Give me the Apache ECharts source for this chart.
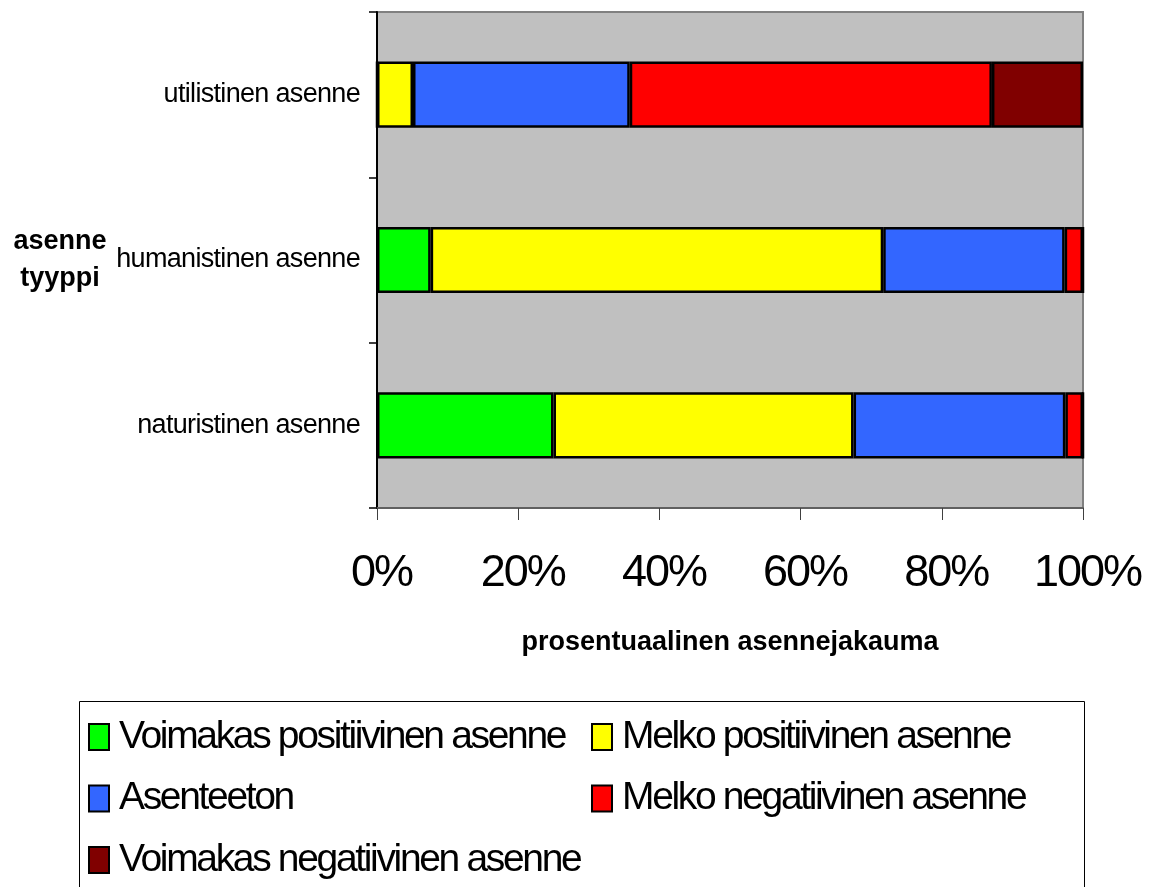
<!DOCTYPE html>
<html>
<head>
<meta charset="utf-8">
<title>Asennejakauma</title>
<script src="https://cdn.jsdelivr.net/npm/echarts@6/dist/echarts.min.js"></script>
<style>
  html, body { margin: 0; padding: 0; background: #fff; }
  #chart { width: 1151px; height: 887px; }
</style>
</head>
<body>
<div id="chart"></div>
<script>
// Category rows, bottom to top
const categories = ['naturistinen asenne', 'humanistinen asenne', 'utilistinen asenne'];

// Share of each attitude per row (%)
const voimakasPositiivinen = [25.0, 7.6, 0];
const melkoPositiivinen    = [42.5, 64.1, 5.1];
const asenteeton           = [30.0, 25.7, 30.7];
const melkoNegatiivinen    = [2.5, 2.6, 51.3];
const voimakasNegatiivinen = [0, 0, 12.9];

const seriesNames = [
  'Voimakas positiivinen asenne',
  'Melko positiivinen asenne',
  'Asenteeton',
  'Melko negatiivinen asenne',
  'Voimakas negatiivinen asenne'
];
const seriesValues = [voimakasPositiivinen, melkoPositiivinen, asenteeton, melkoNegatiivinen, voimakasNegatiivinen];
const seriesColors = ['#00FF00', '#FFFF00', '#3366FF', '#FF0000', '#800000'];

const xTicks = [0, 20, 40, 60, 80, 100];

// Tight letter tracking for the regular-weight text
(function () {
  const proto = CanvasRenderingContext2D.prototype;
  const desc = Object.getOwnPropertyDescriptor(proto, 'font');
  if (!desc || !('letterSpacing' in proto)) return;
  function tracking(font) {
    const m = /(\d+(?:\.\d+)?)px/.exec(font);
    if (!m) return '0px';
    const size = parseFloat(m[1]);
    const bold = /bold|[6-9]00/.test(font);
    const k = bold ? 0 : size >= 44 ? -0.045 : size >= 35 ? -0.06 : -0.025;
    return (k * size).toFixed(2) + 'px';
  }
  Object.defineProperty(proto, 'font', {
    configurable: true,
    get() { return desc.get.call(this); },
    set(v) { desc.set.call(this, v); this.letterSpacing = tracking(v); }
  });
})();

const FONT = "'Liberation Sans', Arial, sans-serif";

const chart = echarts.init(document.getElementById('chart'), null, { renderer: 'canvas' });

const legendCommon = {
  orient: 'vertical',
  icon: 'rect',
  itemWidth: 20,
  itemHeight: 26,
  itemGap: 21.5,
  padding: 0,
  selectedMode: false,
  itemStyle: { borderColor: '#000', borderWidth: 2 },
  textStyle: { fontFamily: FONT, fontSize: 39, color: '#000', lineHeight: 40, padding: [0, 0, 0, 5] }
};

chart.setOption({
  animation: false,
  backgroundColor: '#fff',
  textStyle: { fontFamily: FONT },
  grid: {
    left: 377, top: 12, right: 68, bottom: 379,
    show: true,
    backgroundColor: '#C0C0C0',
    borderColor: '#808080',
    borderWidth: 2
  },
  graphic: [{
    type: 'rect',
    left: 77, top: 699,
    shape: { width: 1005, height: 220 },
    style: { fill: 'none', stroke: '#000', lineWidth: 1 },
    z: 0
  }],
  legend: [
    Object.assign({}, legendCommon, {
      left: 88, top: 717,
      data: [seriesNames[0], seriesNames[2], seriesNames[4]]
    }),
    Object.assign({}, legendCommon, {
      left: 591, top: 717,
      data: [seriesNames[1], seriesNames[3]]
    })
  ],
  xAxis: {
    type: 'value',
    min: xTicks[0],
    max: xTicks[xTicks.length - 1],
    interval: 20,
    splitLine: { show: false },
    axisLine: { show: true, lineStyle: { color: '#606060', width: 2 } },
    axisTick: { show: true, length: 12, lineStyle: { color: '#404040', width: 1 } },
    axisLabel: {
      formatter: '{value}%',
      fontFamily: FONT,
      fontSize: 45,
      color: '#000',
      margin: 44,
      padding: [0, 0, 0, 9]
    },
    name: 'prosentuaalinen asennejakauma',
    nameLocation: 'middle',
    nameGap: 121,
    nameTextStyle: { fontFamily: FONT, fontSize: 27, fontWeight: 'bold', color: '#000' }
  },
  yAxis: {
    type: 'category',
    data: categories,
    axisLine: { show: true, lineStyle: { color: '#000', width: 2 } },
    axisTick: { show: true, length: 8, lineStyle: { color: '#000', width: 1.5 } },
    axisLabel: { fontFamily: FONT, fontSize: 27, color: '#000', margin: 17, padding: [4, 0, 0, 0] },
    name: 'asenne\ntyyppi',
    nameLocation: 'middle',
    nameRotate: 0,
    nameGap: 317,
    nameTextStyle: {
      fontFamily: FONT, fontSize: 27, fontWeight: 'bold', color: '#000',
      align: 'center', verticalAlign: 'middle', lineHeight: 37
    }
  },
  series: seriesNames.map((name, i) => ({
    name,
    type: 'bar',
    stack: 'total',
    barCategoryGap: '60%',
    data: seriesValues[i],
    itemStyle: { color: seriesColors[i], borderColor: '#000', borderWidth: 2.5 },
    emphasis: { disabled: true }
  }))
});
</script>
</body>
</html>
